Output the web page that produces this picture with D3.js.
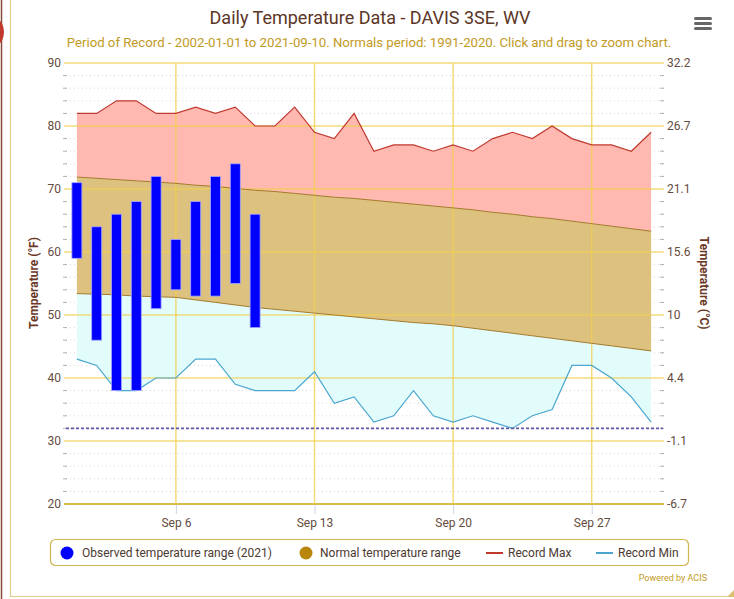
<!DOCTYPE html>
<html>
<head>
<meta charset="utf-8">
<script src="https://cdn.jsdelivr.net/npm/d3@7"></script>
<style>
  body { margin: 0; background: #fff; }
  text { font-family: Roboto, "Noto Sans", sans-serif; }
</style>
</head>
<body>
<div id="chart"></div>
<script>
// days of September shown on the chart
const days = [1,2,3,4,5,6,7,8,9,10,11,12,13,14,15,16,17,18,19,20,21,22,23,24,25,26,27,28,29,30];
const recordMax = [82,82,84,84,82,82,83,82,83,80,80,83,79,78,82,76,77,77,76,77,76,78,79,78,80,78,77,77,76,79];
const recordMin = [43,42,38,38,40,40,43,43,39,38,38,38,41,36,37,33,34,38,34,33,34,33,32,34,35,42,42,40,37,33];
const normalHigh = [71.9,71.7,71.5,71.3,71.1,70.9,70.6,70.4,70.1,69.8,69.6,69.3,69.0,68.7,68.5,
                    68.2,67.9,67.6,67.3,67.0,66.7,66.3,66.0,65.6,65.3,64.9,64.5,64.1,63.7,63.3];
const normalLow = [53.4,53.3,53.2,53.0,52.9,52.8,52.4,52.0,51.6,51.2,50.9,50.6,50.3,50.0,49.7,
                   49.4,49.1,48.8,48.6,48.3,47.9,47.5,47.1,46.7,46.3,45.9,45.5,45.1,44.7,44.3];
// observed 2021 (only up to Sep 10)
const obsDays = [1,2,3,4,5,6,7,8,9,10];
const obsHigh = [71,64,66,68,72,62,68,72,74,66];
const obsLow  = [59,46,38,38,51,54,53,53,55,48];

const xTicks = [6,13,20,27];
const xTickLabels = ["Sep 6","Sep 13","Sep 20","Sep 27"];
const fTicks = [20,30,40,50,60,70,80,90];
const cTickLabels = ["-6.7","-1.1","4.4","10","15.6","21.1","26.7","32.2"];
const freezing = 32;

const W = 734, H = 599;
const margin = { top: 63, right: 71, bottom: 95, left: 66 },
      width = W - margin.left - margin.right,
      height = H - margin.top - margin.bottom;

const root = d3.select("#chart").append("svg")
    .attr("width", W).attr("height", H);

// outer frame bits
root.append("rect").attr("x", 10.5).attr("y", -2).attr("width", W).attr("height", 598.5)
    .attr("fill", "none").attr("stroke", "#e0cf95").attr("stroke-width", 1.2);
root.append("line").attr("x1", 1.5).attr("x2", 1.5).attr("y1", 0).attr("y2", H)
    .attr("stroke", "#8a4a3a").attr("stroke-width", 1.5);
root.append("circle").attr("cx", -14).attr("cy", 32).attr("r", 18).attr("fill", "#c0392b");
root.append("path").attr("d", "M727,597 L734,590 L734,597 Z").attr("fill", "#d8c070");

// title
root.append("text").attr("x", 370).attr("y", 24).attr("text-anchor", "middle")
    .style("font-size", "18px").attr("fill", "#5b3526")
    .text("Daily Temperature Data - DAVIS 3SE, WV");
root.append("text").attr("x", 369).attr("y", 47).attr("text-anchor", "middle")
    .style("font-size", "13.2px").attr("fill", "#c19a24")
    .text("Period of Record - 2002-01-01 to 2021-09-10. Normals period: 1991-2020. Click and drag to zoom chart.");

// menu icon
[17, 22, 27].forEach(yy => {
    root.append("rect").attr("x", 694).attr("y", yy).attr("width", 18).attr("height", 3)
        .attr("rx", 1.5).attr("fill", "#666");
});

const svg = root.append("g")
    .attr("transform", "translate(" + margin.left + "," + margin.top + ")");

const x = d3.scaleLinear().domain([0.45, 30.6]).range([0, width]);
const y = d3.scaleLinear().domain([20, 90]).range([height, 0]);

// minor dotted grid
const minor = d3.range(22, 90, 2).filter(v => v % 10 !== 0);
svg.selectAll(".minor").data(minor).enter().append("line")
    .attr("x1", 0).attr("x2", width)
    .attr("y1", d => y(d)).attr("y2", d => y(d))
    .attr("stroke", "#d6d6d6").attr("stroke-dasharray", "1,3");

// minor ticks at both sides
svg.selectAll(".mtl").data(minor).enter().append("line")
    .attr("x1", -3).attr("x2", 1).attr("y1", d => y(d)).attr("y2", d => y(d))
    .attr("stroke", "#b0b0b0");
svg.selectAll(".mtr").data(minor).enter().append("line")
    .attr("x1", width - 3).attr("x2", width + 1).attr("y1", d => y(d)).attr("y2", d => y(d))
    .attr("stroke", "#b0b0b0");

// areas
const pts = days.map((d, i) => ({
    day: d, rmax: recordMax[i], rmin: recordMin[i], nh: normalHigh[i], nl: normalLow[i]
}));

svg.append("path").datum(pts)
    .attr("fill", "#ffb9b0")
    .attr("d", d3.area().x(d => x(d.day)).y0(d => y(d.nh)).y1(d => y(d.rmax)));
svg.append("path").datum(pts)
    .attr("fill", "#e2fcfb")
    .attr("d", d3.area().x(d => x(d.day)).y0(d => y(d.rmin)).y1(d => y(d.nl)));
svg.append("path").datum(pts)
    .attr("fill", "#dcc17f")
    .attr("d", d3.area().x(d => x(d.day)).y0(d => y(d.nl)).y1(d => y(d.nh)));

// major grid lines
svg.selectAll(".hgrid").data(fTicks).enter().append("line")
    .attr("x1", -2).attr("x2", width + 1)
    .attr("y1", d => y(d)).attr("y2", d => y(d))
    .attr("stroke", d => d === 20 ? "#d4bd4a" : "#f2cf4e")
    .attr("stroke-opacity", d => d === 20 ? 1 : 0.75)
    .attr("stroke-width", d => d === 20 ? 2 : 1.5);
svg.selectAll(".vgrid").data(xTicks).enter().append("line")
    .attr("x1", d => x(d)).attr("x2", d => x(d))
    .attr("y1", 0).attr("y2", height)
    .attr("stroke", "#f2cf4e").attr("stroke-opacity", 0.75).attr("stroke-width", 1.5);

// normal range edges
svg.append("path").datum(pts).attr("fill", "none").attr("stroke", "#a57a2c").attr("stroke-width", 1)
    .attr("d", d3.line().x(d => x(d.day)).y(d => y(d.nh)));
svg.append("path").datum(pts).attr("fill", "none").attr("stroke", "#a57a2c").attr("stroke-width", 1)
    .attr("d", d3.line().x(d => x(d.day)).y(d => y(d.nl)));

// record lines
svg.append("path").datum(pts).attr("fill", "none").attr("stroke", "#c0392f").attr("stroke-width", 1.2)
    .attr("d", d3.line().x(d => x(d.day)).y(d => y(d.rmax)));
svg.append("path").datum(pts).attr("fill", "none").attr("stroke", "#4aa6cf").attr("stroke-width", 1.2)
    .attr("d", d3.line().x(d => x(d.day)).y(d => y(d.rmin)));

// freezing line
svg.append("line").attr("x1", 0).attr("x2", width)
    .attr("y1", y(freezing)).attr("y2", y(freezing))
    .attr("stroke", "#5f5aa8").attr("stroke-width", 1.6).attr("stroke-dasharray", "3,2");

// observed bars
const obs = obsDays.map((d, i) => ({ day: d, hi: obsHigh[i], lo: obsLow[i] }));
svg.selectAll(".bar").data(obs).enter().append("rect")
    .attr("x", d => x(d.day) - 5)
    .attr("y", d => y(d.hi))
    .attr("width", 10)
    .attr("height", d => y(d.lo) - y(d.hi))
    .attr("fill", "#0000ff")
    .attr("stroke", "#a6a6ff").attr("stroke-width", 0.8);

// axes
const axisColor = "#654c3e";
const xAxis = svg.append("g").attr("transform", "translate(0," + height + ")")
    .call(d3.axisBottom(x).tickValues(xTicks).tickFormat((d, i) => xTickLabels[i]).tickSize(9).tickPadding(5));
xAxis.select(".domain").remove();
xAxis.selectAll(".tick line").attr("stroke", "#ccd6eb").attr("transform", "translate(0,1)");
xAxis.selectAll("text").style("font-size", "12px").attr("fill", axisColor);

const yAxis = svg.append("g")
    .call(d3.axisLeft(y).tickValues(fTicks).tickSize(0).tickPadding(5));
yAxis.select(".domain").remove();
yAxis.selectAll("text").style("font-size", "12px").attr("fill", axisColor);

const yAxisR = svg.append("g").attr("transform", "translate(" + width + ",0)")
    .call(d3.axisRight(y).tickValues(fTicks).tickFormat((d, i) => cTickLabels[i]).tickSize(0).tickPadding(4));
yAxisR.select(".domain").remove();
yAxisR.selectAll("text").style("font-size", "12px").attr("fill", axisColor);

// axis titles
root.append("text").attr("transform", "translate(38,283) rotate(-90)")
    .attr("text-anchor", "middle").style("font-size", "12px").style("font-weight", "bold")
    .attr("fill", "#6b3826").text("Temperature (°F)");
root.append("text").attr("transform", "translate(700,283) rotate(90)")
    .attr("text-anchor", "middle").style("font-size", "12px").style("font-weight", "bold")
    .attr("fill", "#6b3826").text("Temperature (°C)");

// legend
const lg = root.append("g");
lg.append("rect").attr("x", 50.5).attr("y", 539.5).attr("width", 638).attr("height", 26).attr("rx", 5)
    .attr("fill", "none").attr("stroke", "#cfb650").attr("stroke-width", 1.2);
const legendColor = "#4b3a30";
lg.append("circle").attr("cx", 67).attr("cy", 553).attr("r", 6.5).attr("fill", "#0000ff");
lg.append("text").attr("x", 82).attr("y", 557).style("font-size", "12px").attr("fill", legendColor)
    .text("Observed temperature range (2021)");
lg.append("circle").attr("cx", 306).attr("cy", 553).attr("r", 6.5).attr("fill", "#b8860b");
lg.append("text").attr("x", 320).attr("y", 557).style("font-size", "12px").attr("fill", legendColor)
    .text("Normal temperature range");
lg.append("line").attr("x1", 486).attr("x2", 503).attr("y1", 553).attr("y2", 553)
    .attr("stroke", "#c0392f").attr("stroke-width", 2);
lg.append("text").attr("x", 508).attr("y", 557).style("font-size", "12px").attr("fill", legendColor)
    .text("Record Max");
lg.append("line").attr("x1", 596).attr("x2", 613).attr("y1", 553).attr("y2", 553)
    .attr("stroke", "#4aa6cf").attr("stroke-width", 2);
lg.append("text").attr("x", 618).attr("y", 557).style("font-size", "12px").attr("fill", legendColor)
    .text("Record Min");

root.append("text").attr("x", 707).attr("y", 581).attr("text-anchor", "end")
    .style("font-size", "9px").attr("fill", "#c19a24").text("Powered by ACIS");
</script>
</body>
</html>
